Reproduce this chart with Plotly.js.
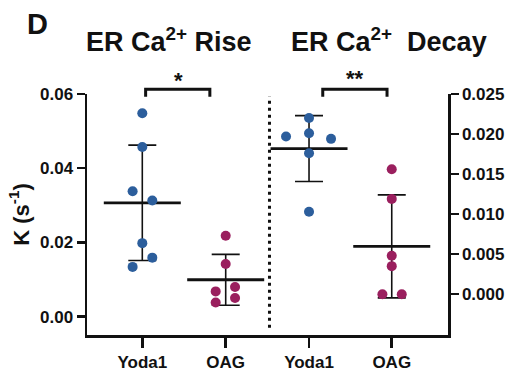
<!DOCTYPE html>
<html>
<head>
<meta charset="utf-8">
<script src="https://cdn.plot.ly/plotly-3.0.1.min.js"></script>
<style>html,body{margin:0;padding:0;background:#fff}#chart{width:516px;height:375px}</style>
</head>
<body>
<div id="chart"></div>
<script>
// ---- data ----
const groups = ["Yoda1", "OAG"];
const riseYoda1 = [0.0548, 0.0457, 0.0338, 0.0313, 0.0198, 0.0159, 0.0134];
const riseOAG = [0.0218, 0.0142, 0.0080, 0.0068, 0.0050, 0.0038];
const decayYoda1 = [0.0220, 0.0201, 0.0197, 0.0194, 0.0176, 0.0103];
const decayOAG = [0.0156, 0.0119, 0.0048, 0.0035, 0.0000, 0.0000];
// horizontal scatter offsets (category units) of each point
const riseYoda1Jit = [0, 0, -0.116, 0.12, 0, 0.12, -0.116];
const riseOAGJit = [0, 0, 0.112, -0.12, 0.112, -0.12];
const decayYoda1Jit = [0, 0, -0.278, 0.266, 0, 0];
const decayOAGJit = [0, 0, 0, 0, -0.113, 0.121];
const riseTicks = [0, 0.02, 0.04, 0.06];
const decayTicks = [0, 0.005, 0.01, 0.015, 0.02, 0.025];

const BLUE = "#2c5e9c", MAG = "#9a1f5e", INK = "#111111";
const FONT = "Liberation Sans, Arial, sans-serif";

function mean(a){return a.reduce((s,v)=>s+v,0)/a.length;}
function sd(a){const m=mean(a);return Math.sqrt(a.reduce((s,v)=>s+(v-m)*(v-m),0)/(a.length-1));}

function pts(vals, jit, gi, color, xa, ya){
  return {type:"scatter", mode:"markers", x: vals.map((v,i)=>gi+jit[i]), y: vals,
    xaxis:xa, yaxis:ya, cliponaxis:false, hoverinfo:"skip",
    marker:{size:10, color:color}, showlegend:false};
}
function summ(a, b, xa, ya){
  return {type:"scatter", mode:"markers", x:[0,1], y:[mean(a), mean(b)], xaxis:xa, yaxis:ya,
    cliponaxis:false, hoverinfo:"skip", showlegend:false,
    marker:{symbol:"line-ew", size:55, color:INK, line:{width:2.8, color:INK}},
    error_y:{type:"data", array:[sd(a), sd(b)], visible:true, thickness:1.6, width:14, color:INK}};
}

const traces = [
  summ(riseYoda1, riseOAG, "x", "y"),
  summ(decayYoda1, decayOAG, "x2", "y2"),
  pts(riseYoda1, riseYoda1Jit, 0, BLUE, "x", "y"),
  pts(riseOAG, riseOAGJit, 1, MAG, "x", "y"),
  pts(decayYoda1, decayYoda1Jit, 0, BLUE, "x2", "y2"),
  pts(decayOAG, decayOAGJit, 1, MAG, "x2", "y2")
];

const tickF = {family:FONT, size:17, color:INK, weight:"bold"};
const split = 0.5055;
const common = {showline:true, linewidth:2.5, linecolor:INK, ticks:"outside", tickwidth:2.5,
  tickcolor:INK, showgrid:false, zeroline:false, fixedrange:true, tickfont:tickF};

const layout = {
  width:516, height:375,
  margin:{l:87, r:68, t:94, b:40, pad:0},
  paper_bgcolor:"#fff", plot_bgcolor:"#fff",
  showlegend:false,
  xaxis:Object.assign({}, common, {domain:[0, split], range:[-0.663, 1.525], anchor:"y",
    tickvals:[0,1], ticktext:groups, ticklen:10}),
  xaxis2:Object.assign({}, common, {domain:[split, 1], range:[-0.478, 1.680], anchor:"y2",
    tickvals:[0,1], ticktext:groups, ticklen:10}),
  yaxis:Object.assign({}, common, {range:[-0.00495, 0.06], anchor:"x", tickvals:riseTicks,
    tickformat:".2f", ticklen:8,
    title:{text:"<b>K (s<sup>-1</sup>)</b>", font:{family:FONT, size:22, color:INK, weight:"bold"}, standoff:5}}),
  yaxis2:Object.assign({}, common, {range:[-0.0051, 0.025], anchor:"x2", side:"right",
    tickvals:decayTicks, tickformat:".3f", ticklen:8}),
  shapes:[
    {type:"path", xref:"x", yref:"paper", path:"M0.04,0.989 L0.04,1.0195 L0.81,1.0195 L0.81,0.989",
      line:{color:INK, width:3}},
    {type:"path", xref:"x2", yref:"paper", path:"M0.166,0.989 L0.166,1.0195 L0.943,1.0195 L0.943,0.989",
      line:{color:INK, width:3}},
    {type:"line", xref:"paper", yref:"paper", x0:split, x1:split, y0:0.03, y1:0.99,
      line:{color:INK, width:3, dash:"3px,4px"}}
  ],
  annotations:[
    {xref:"paper", yref:"paper", x:(37-87)/361, y:(335-24)/241, text:"<b>D</b>", showarrow:false,
      font:{family:FONT, size:29, color:INK}, xanchor:"center", yanchor:"middle"},
    {xref:"paper", yref:"paper", x:(169-87)/361, y:(335-40)/241, text:"<b>ER Ca<sup>2+</sup> Rise</b>", showarrow:false,
      font:{family:FONT, size:27, color:INK}, xanchor:"center", yanchor:"middle"},
    {xref:"paper", yref:"paper", x:(389-87)/361, y:(335-40)/241, text:"<b>ER Ca<sup>2+</sup>  Decay</b>", showarrow:false,
      font:{family:FONT, size:27, color:INK}, xanchor:"center", yanchor:"middle"},
    {xref:"x", yref:"paper", x:0.43, y:(335-80)/241, text:"<b>*</b>", showarrow:false,
      font:{family:FONT, size:22, color:INK}, xanchor:"center", yanchor:"middle"},
    {xref:"x2", yref:"paper", x:0.556, y:(335-78)/241, text:"<b>**</b>", showarrow:false,
      font:{family:FONT, size:22, color:INK}, xanchor:"center", yanchor:"middle"}
  ]
};

Plotly.newPlot("chart", traces, layout, {staticPlot:true, displayModeBar:false});
</script>
</body>
</html>
